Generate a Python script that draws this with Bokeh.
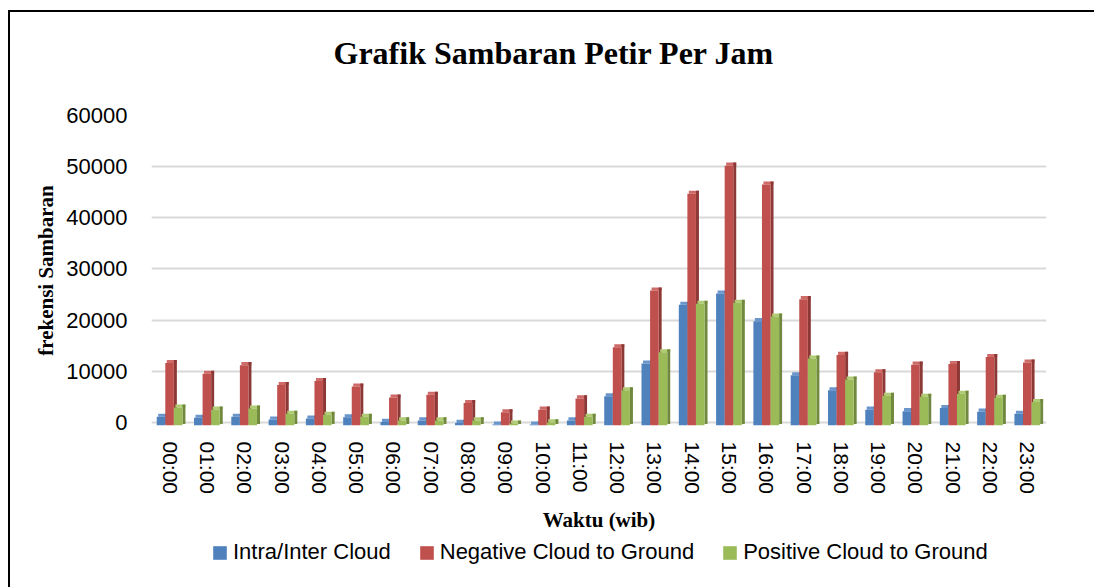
import numpy as np
from bokeh.plotting import figure
from bokeh.layouts import column
from bokeh.models import Legend, LegendItem, FixedTicker, Range1d, ColumnDataSource, Title
from bokeh.embed import file_html
from bokeh.resources import INLINE

hours = ["00:00", "01:00", "02:00", "03:00", "04:00", "05:00", "06:00", "07:00",
         "08:00", "09:00", "10:00", "11:00", "12:00", "13:00", "14:00", "15:00",
         "16:00", "17:00", "18:00", "19:00", "20:00", "21:00", "22:00", "23:00"]
intra = [1700, 1500, 1700, 1150, 1350, 1600, 700, 1000, 500, 200, 200, 1000,
         5700, 12100, 23600, 25800, 20400, 9800, 6900, 3100, 2800, 3400, 2700, 2300]
negative = [12200, 10100, 11800, 7900, 8700, 7600, 5450, 6000, 4400, 2600, 3100, 5300,
            15300, 26400, 45300, 50800, 47100, 24700, 13800, 10400, 11900, 12000, 13400, 12300]
positive = [3500, 3100, 3300, 2300, 2100, 1700, 1000, 1000, 1000, 400, 600, 1700,
            6900, 14300, 23800, 24000, 21300, 13100, 9000, 5800, 5600, 6200, 5400, 4600]
series_names = ["Intra/Inter Cloud", "Negative Cloud to Ground", "Positive Cloud to Ground"]
y_ticks = [0, 10000, 20000, 30000, 40000, 50000, 60000]
y_labels = ["0", "10000", "20000", "30000", "40000", "50000", "60000"]

front_colors = ["#4F81BD", "#C0504D", "#9BBB59"]
side_colors = ["#385D8A", "#8C3836", "#71893F"]
top_colors = ["#6A96CB", "#CE6A67", "#AFCB74"]

SANS = "Liberation Sans"
SERIF = "Liberation Serif"

# depth of the pseudo-3D columns (x in category units, y in value units)
dx = 0.08
dy = 600

p = figure(width=1086, height=526, x_range=Range1d(-0.5, 23.5), y_range=Range1d(-dy, 60000),
           output_backend="svg", toolbar_location=None, margin=(10, 0, 0, 8),
           min_border_left=141, min_border_right=50, min_border_top=103, min_border_bottom=113)
p.styles = {"border-top": "2px solid black", "border-left": "2px solid black"}

# spacer between chart title and plot area
p.add_layout(Title(text=" ", text_font_size="1px", standoff=21), "above")

p.title.text = "Grafik Sambaran Petir Per Jam"
p.title.text_font = SERIF
p.title.text_font_style = "bold"
p.title.text_font_size = "32px"
p.title.text_color = "black"
p.title.align = "left"
p.title.vertical_align = "middle"
p.title.offset = 182
p.title.standoff = 40

x = np.arange(len(hours))
bw = 0.23
for k, vals in enumerate([intra, negative, positive]):
    v = np.array(vals, dtype=float)
    left = x - 0.36 + k * bw
    right = left + bw
    src = ColumnDataSource(dict(left=left, right=right, fb=np.full_like(v, -dy), ft=v - dy,
                                sl=right, sr=right + dx, sb=np.zeros_like(v) - dy / 2, st=v,
                                tl=left + dx / 2, tr=right + dx, tb=v - dy, tt=v))
    p.quad(left="tl", right="tr", bottom="tb", top="tt", source=src,
           fill_color=top_colors[k], line_color=None)
    p.quad(left="sl", right="sr", bottom="sb", top="st", source=src,
           fill_color=side_colors[k], line_color=None)
    p.quad(left="left", right="right", bottom="fb", top="ft", source=src,
           fill_color=front_colors[k], line_color=None)

p.xgrid.visible = False
p.ygrid.grid_line_color = "#D9D9D9"
p.ygrid.grid_line_width = 2
p.outline_line_color = None

for ax in (p.xaxis[0], p.yaxis[0]):
    ax.axis_line_color = None
    ax.major_tick_line_color = None
    ax.minor_tick_line_color = None
    ax.major_tick_out = 0
    ax.major_tick_in = 0
    ax.minor_tick_out = 0
    ax.minor_tick_in = 0
    ax.major_label_text_font = SANS
    ax.major_label_text_color = "black"
    ax.axis_label_text_font = SERIF
    ax.axis_label_text_font_style = "bold"
    ax.axis_label_text_font_size = "21px"
    ax.axis_label_text_color = "black"

p.xaxis.ticker = FixedTicker(ticks=list(range(len(hours))))
p.xaxis.major_label_overrides = {i: h for i, h in enumerate(hours)}
p.xaxis.major_label_orientation = "vertical"
p.xaxis.major_label_text_font_size = "21px"
p.xaxis.major_label_standoff = 16
p.xaxis.axis_label = "Waktu (wib)"
p.xaxis.axis_label_standoff = 11

p.yaxis.ticker = FixedTicker(ticks=y_ticks)
p.yaxis.major_label_overrides = {t: l for t, l in zip(y_ticks, y_labels)}
p.yaxis.major_label_text_font_size = "22px"
p.yaxis.major_label_standoff = 24
p.yaxis.axis_label = "frekensi Sambaran"
p.yaxis.axis_label_standoff = 5

# legend strip below the chart (its frame is aligned with the chart's frame)
q = figure(width=1086, height=51, x_range=Range1d(0, 1), y_range=Range1d(0, 1),
           output_backend="svg", toolbar_location=None, margin=(0, 0, 0, 8),
           x_axis_location=None, y_axis_location=None, min_border=0)
q.styles = {"border-left": "2px solid black"}
q.grid.visible = False
q.outline_line_color = None
legend_renderers = []
for k in range(3):
    r = q.quad(left=[5], right=[6], bottom=[5], top=[6], fill_color=front_colors[k], line_color=None)
    legend_renderers.append(r)

legend = Legend(items=[LegendItem(label=n, renderers=[r]) for n, r in zip(series_names, legend_renderers)],
                orientation="horizontal", location=(60, 22),
                label_text_font=SANS, label_text_font_size="22px", label_text_color="black",
                glyph_width=17, glyph_height=17, label_standoff=5, spacing=27, label_height=22,
                border_line_color=None, background_fill_alpha=0, margin=0, padding=0)
q.add_layout(legend, "center")

layout = column(p, q, spacing=0)
open("out.html", "w").write(file_html(layout, INLINE))
